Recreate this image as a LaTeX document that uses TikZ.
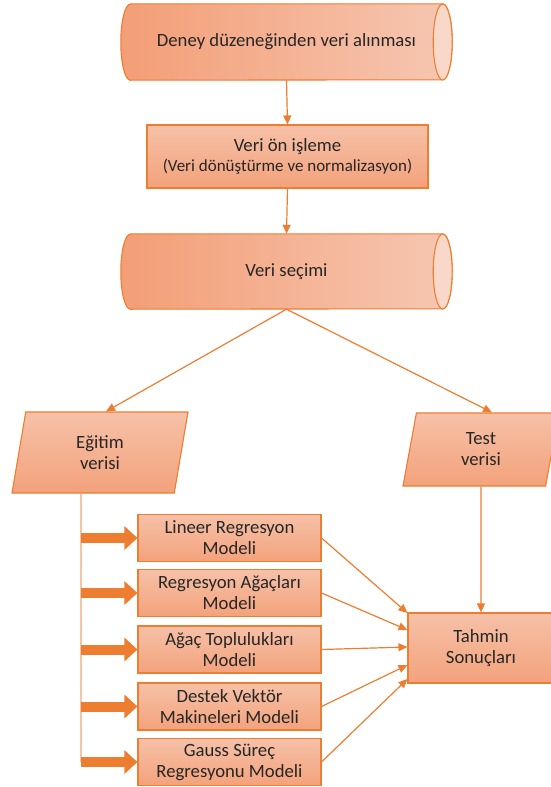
\documentclass[tikz,border=0pt]{standalone}
\usepackage{fontspec}
\setmainfont{Carlito}
\usetikzlibrary{shapes.geometric,arrows.meta,backgrounds}

\definecolor{edge}{RGB}{237,125,49}
\definecolor{boxtop}{RGB}{246,193,168}
\definecolor{boxbot}{RGB}{243,162,123}
\definecolor{drumL}{RGB}{243,158,118}
\definecolor{drumR}{RGB}{246,199,178}
\definecolor{drumcap}{RGB}{250,216,201}
\definecolor{spinecol}{RGB}{248,196,166}

% silindir govdesi (dugumun arkasina)
\newcommand{\drawdrum}[2]{%
  \shadedraw[left color=drumL, right color=drumR, draw=edge, line width=1.1pt]
    ([xshift=9.5pt]#1.north west) -- ([xshift=-9.5pt]#1.north east)
    arc[start angle=90, end angle=-90, x radius=9.5pt, y radius=#2]
    -- ([xshift=9.5pt]#1.south west)
    arc[start angle=270, end angle=90, x radius=9.5pt, y radius=#2] -- cycle;
  \filldraw[fill=drumcap, draw=edge, line width=1.1pt]
    ([xshift=-9.5pt]#1.east) ellipse[x radius=9.5pt, y radius=#2];
}

\begin{document}
\begin{tikzpicture}[
    x=1pt, y=1pt,
    >={Triangle[length=9pt,width=8pt]},
    txt/.style={font=\fontsize{18.7}{21}\selectfont, align=center, text=black!85},
    drum/.style={txt, rectangle, inner sep=0pt, minimum width=331pt},
    proc/.style={txt, rectangle, draw=edge, line width=1.1pt, top color=boxtop, bottom color=boxbot, inner sep=0pt},
    io/.style={txt, trapezium, trapezium left angle=68, trapezium right angle=112, trapezium stretches body,
               draw=edge, line width=1.1pt, top color=boxtop, bottom color=boxbot, inner sep=0pt},
    model/.style={proc, minimum width=183pt, minimum height=47pt},
    conn/.style={->, draw=edge, line width=1.2pt},
    fat/.style={-{Triangle[length=13pt,width=23pt]}, draw=edge, line width=10pt},
    spine/.style={draw=spinecol, line width=2.2pt}
]
  \useasboundingbox (0,0) rectangle (550,-787);

  % Ust kisim
  \node[drum, minimum height=76pt] (c1) at (286.5,-42) {Deney düzeneğinden veri alınması};
  \node[proc, minimum width=281pt, minimum height=63pt] (p1) at (287.5,-156.5)
    {Veri ön işleme\\[-1pt]{\fontsize{17}{20}\selectfont (Veri dönüştürme ve normalizasyon)}};
  \node[drum, minimum height=75pt] (c2) at (286.5,-271.5) {Veri seçimi};

  \begin{scope}[on background layer]
    \drawdrum{c1}{38pt}
    \drawdrum{c2}{37.5pt}
  \end{scope}

  % Veri ayirma
  \node[io, minimum width=176pt, minimum height=81pt] (egitim) at (100,-452.5) {Eğitim\\verisi};
  \node[io, minimum width=156pt, minimum height=73pt] (test) at (481,-449.5) {Test\\verisi};

  % Modeller
  \node[model] (m1) at (229.5,-538)   {Lineer Regresyon\\Modeli};
  \node[model] (m2) at (229.5,-593)   {Regresyon Ağaçları\\Modeli};
  \node[model] (m3) at (229.5,-649.5) {Ağaç Toplulukları\\Modeli};
  \node[model] (m4) at (229.5,-706.5) {Destek Vektör\\Makineleri Modeli};
  \node[model] (m5) at (229.5,-762)   {Gauss Süreç\\Regresyonu Modeli};

  \node[proc, minimum width=146pt, minimum height=70pt] (tahmin) at (481,-648) {Tahmin\\Sonuçları};

  % Baglantilar
  \draw[conn] (c1.south) -- (p1.north);
  \draw[conn] (p1.south) -- (c2.north);
  \draw[conn] (c2.south) -- ([xshift=6pt]egitim.north);
  \draw[conn] (c2.south) -- ([xshift=11pt]test.north);
  \draw[conn] (test.south) -- (tahmin.north);

  \coordinate (spine) at (81,-762);
  \draw[spine] (spine |- egitim.south) -- (spine);
  \foreach \m in {m1,m2,m3,m4,m5}
    \draw[fat] (spine |- \m.west) -- (\m.west);

  \draw[conn] (m1.east) -- ([yshift=35pt]tahmin.west);
  \draw[conn] (m2.east) -- ([yshift=18pt]tahmin.west);
  \draw[conn] (m3.east) -- ([yshift=1pt]tahmin.west);
  \draw[conn] (m4.east) -- ([yshift=-17pt]tahmin.west);
  \draw[conn] (m5.east) -- ([yshift=-31pt]tahmin.west);

\end{tikzpicture}
\end{document}
